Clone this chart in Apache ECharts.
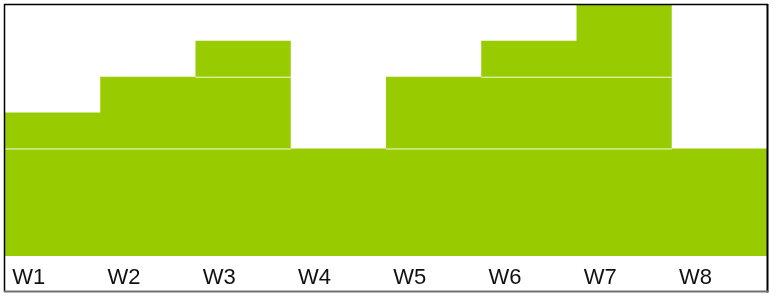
<!DOCTYPE html>
<html>
<head>
<meta charset="utf-8">
<script src="https://cdn.jsdelivr.net/npm/echarts@6/dist/echarts.min.js"></script>
<style>html,body{margin:0;padding:0;background:#fff;}#c{width:780px;height:297px;}</style>
</head>
<body>
<div id="c"></div>
<script>
var categories = ['W1','W2','W3','W4','W5','W6','W7','W8'];
var baseValues = [3,3,3,3,3,3,3,3];
var midValues = [1,2,2,0,2,2,2,0];
var topValues = [0,0,1,0,0,1,2,0];
var yMax = 7;

var chart = echarts.init(document.getElementById('c'), null, {renderer:'canvas'});
function seg(name, data){
  return {
    name: name, type: 'bar', stack: 'total', data: data,
    barCategoryGap: 0, barGap: 0,
    large: true, largeThreshold: 1,
    itemStyle: {color:'#99cc00', shadowColor:'rgba(255,255,255,0.85)', shadowOffsetY:1, shadowBlur:0},
    emphasis: {disabled:true}, animation:false
  };
}
chart.setOption({
  animation:false,
  backgroundColor:'#ffffff',
  grid:{left:5,right:13,top:5,bottom:41,containLabel:false},
  xAxis:{type:'category',data:categories,
    axisLine:{show:false},axisTick:{show:false},
    axisLabel:{margin:11,formatter:function(v){return '{a|'+v+'}';},
      rich:{a:{width:88,padding:[0,0,0,7],align:'left',fontFamily:'Liberation Sans, Arial, sans-serif',fontSize:22,color:'#111'}}}},
  yAxis:{type:'value',min:0,max:yMax,show:false,splitLine:{show:false}},
  series:[seg('base',baseValues),seg('mid',midValues),seg('top',topValues)],
  graphic:[
    {type:'line',shape:{x1:4.5,y1:4,x2:4.5,y2:292},style:{stroke:'#000',lineWidth:1.5},z:100},
    {type:'line',shape:{x1:4,y1:4.5,x2:768,y2:4.5},style:{stroke:'#000',lineWidth:1.5},z:100},
    {type:'line',shape:{x1:767.5,y1:4,x2:767.5,y2:292.5},style:{stroke:'#000',lineWidth:2},z:100},
    {type:'line',shape:{x1:4,y1:291.5,x2:768,y2:291.5},style:{stroke:'#707070',lineWidth:2},z:100}
  ]
});
</script>
</body>
</html>
